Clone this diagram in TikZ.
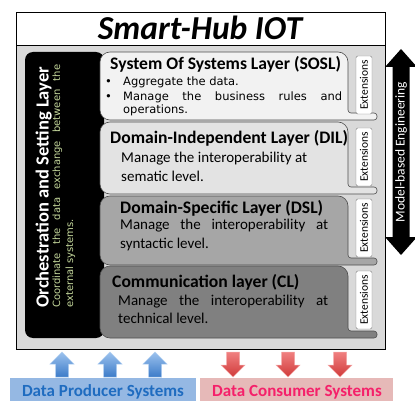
\documentclass[tikz,border=0pt]{standalone}
\usepackage{fontspec}
\setmainfont{Carlito}
\newfontfamily\widesans{DejaVu Sans}
\definecolor{frame}{HTML}{D9D9D9}
\definecolor{soslfill}{HTML}{F2F2F2}
\definecolor{dilfill}{HTML}{E3E3E3}
\definecolor{dslfill}{HTML}{A6A6A6}
\definecolor{clfill}{HTML}{808080}
\definecolor{edge}{HTML}{4D4D4D}
\definecolor{olive}{HTML}{C4D79B}
\definecolor{prodfill}{HTML}{95B8E3}
\definecolor{prodtext}{HTML}{1F6CC0}
\definecolor{consfill}{HTML}{E6B9B8}
\definecolor{constext}{HTML}{F5206A}
\definecolor{bluetop}{HTML}{9CC2EE}
\definecolor{bluebot}{HTML}{3C7BC8}
\definecolor{redtop}{HTML}{F08080}
\definecolor{redbot}{HTML}{D03A3A}
\tikzset{
  layerline/.style={draw=edge, line width=0.6pt},
  laytitle/.style={anchor=base west, inner sep=0pt, font=\bfseries\fontsize{17.6}{19}\selectfont},
  laybody/.style={anchor=base west, inner sep=0pt, font=\fontsize{15}{17}\selectfont},
  soslbody/.style={anchor=base west, inner sep=0pt, font=\widesans\fontsize{11.5}{13}\selectfont},
  extbox/.style={draw=gray, fill=white, rounded corners=1.5pt, rotate=90, minimum width=58pt,
    minimum height=16pt, inner sep=0pt, font=\fontsize{11.5}{11.5}\selectfont},
  uparrow/.style={draw=bluetop!80!white, line width=0.5pt, top color=bluetop, bottom color=bluebot},
  downarrow/.style={draw=redtop!70!white, line width=0.5pt, top color=redtop, bottom color=redbot},
}
% layer outline with a foot that runs under the extension box
\newcommand\layerpath[3]{%
  \path[layerline, fill=#1] (100,#2+20) [rounded corners=10pt] -- (100,#2) -- (348,#2) -- (348,#2+20)
    [rounded corners=3pt] -- (348,#3-7) -- (377,#3-7) -- (377,#3) -- (300,#3)
    [rounded corners=10pt] -- (100,#3) -- cycle;}
\begin{document}
\begin{tikzpicture}[x=1pt,y=-1pt]
\useasboundingbox (0,0) rectangle (415,401);

% outer frame: title strip and grey body
\path[draw=black, line width=0.9pt, fill=white] (16,12) rectangle (385,45);
\path[draw=black, line width=0.9pt, fill=frame] (16,45) rectangle (385,349);
\node[inner sep=0pt, anchor=base, font=\bfseries\itshape\fontsize{33.5}{33.5}\selectfont] (title) at (200,40) {Smart-Hub IOT};

% orchestration column
\path[fill=black, rounded corners=8pt] (25,52) rectangle (104,338);
\node[rotate=90, anchor=base west, inner sep=0pt, text=white,
  font=\bfseries\fontsize{18.5}{18.5}\selectfont] (orch) at (48.5,308) {Orchestration and Setting Layer};
\node[rotate=90, anchor=base west, inner sep=0pt, text=olive, font=\widesans\fontsize{10}{11}\selectfont] (orch1) at (60,308) {\makebox[243pt][s]{Coordinate the data exchange between the}};
\node[rotate=90, anchor=base west, inner sep=0pt, text=olive, font=\widesans\fontsize{10}{11}\selectfont] (orch2) at (73,308) {external systems.};

% layers
\layerpath{soslfill}{52}{120}
\layerpath{dilfill}{122}{194}
\layerpath{dslfill}{196}{265}
\layerpath{clfill}{266}{338}

% SOSL
\node[laytitle] (sosl) at (110,69.5) {System Of Systems Layer (SOSL)};
\node[soslbody] (b1) at (105,85.5) {\textbullet};
\node[soslbody] (b2) at (105,100.5) {\textbullet};
\node[soslbody] (s1) at (123,85.5) {Aggregate the data.};
\node[soslbody] (s2) at (123,100.5) {\makebox[219pt][s]{Manage the business rules and}};
\node[soslbody] (s3) at (123,114) {operations.};

% DIL
\node[laytitle] (dil) at (110,143) {Domain-Independent Layer (DIL)};
\node[laybody] (d1) at (121,162) {Manage the interoperability at};
\node[laybody] (d2) at (121,182) {sematic level.};

% DSL
\node[laytitle] (dsl) at (120,213) {Domain-Specific Layer (DSL)};
\node[laybody] (p1) at (120,229) {\makebox[208pt][s]{Manage the interoperability at}};
\node[laybody] (p2) at (120,248) {syntactic level.};

% CL
\node[laytitle] (cl) at (112,287) {Communication layer (CL)};
\node[laybody] (c1) at (118,305) {\makebox[210pt][s]{Manage the interoperability at}};
\node[laybody] (c2) at (118,323) {technical level.};

% extension tabs
\node[extbox] (ext1) at (364,85) {Extensions};
\node[extbox] (ext2) at (364,157) {Extensions};
\node[extbox] (ext3) at (364,228) {Extensions};
\node[extbox] (ext4) at (364,300) {Extensions};

% model-based engineering double arrow
\path[fill=black] (401,49) -- (417,67) -- (409.5,67) -- (409.5,237) -- (417,237) -- (401,255)
  -- (385,237) -- (392.5,237) -- (392.5,67) -- (385,67) -- cycle;
\node[rotate=90, text=white, inner sep=0pt, font=\fontsize{13.5}{13.5}\selectfont] (mbe) at (401,152) {Model-based Engineering};

% producer arrows (up)
\foreach \cx in {62,110,155}{
  \path[uparrow] (\cx,352) -- (\cx+12,364) -- (\cx+6.5,364) -- (\cx+6.5,377) -- (\cx-6.5,377)
    -- (\cx-6.5,364) -- (\cx-12,364) -- cycle;
}
% consumer arrows (down)
\foreach \cx in {233,288,340}{
  \path[downarrow] (\cx-6.5,352) -- (\cx+6.5,352) -- (\cx+6.5,365) -- (\cx+12,365) -- (\cx,377)
    -- (\cx-12,365) -- (\cx-6.5,365) -- cycle;
}

% system labels
\path[fill=prodfill] (10,378) rectangle (196,401);
\path[fill=consfill] (200,378) rectangle (393,401);
\node[text=prodtext, font=\bfseries\fontsize{17}{17}\selectfont, inner sep=0pt] (prod) at (103,392) {Data Producer Systems};
\node[text=constext, font=\bfseries\fontsize{17}{17}\selectfont, inner sep=0pt] (cons) at (297,392) {Data Consumer Systems};
\end{tikzpicture}
\end{document}
